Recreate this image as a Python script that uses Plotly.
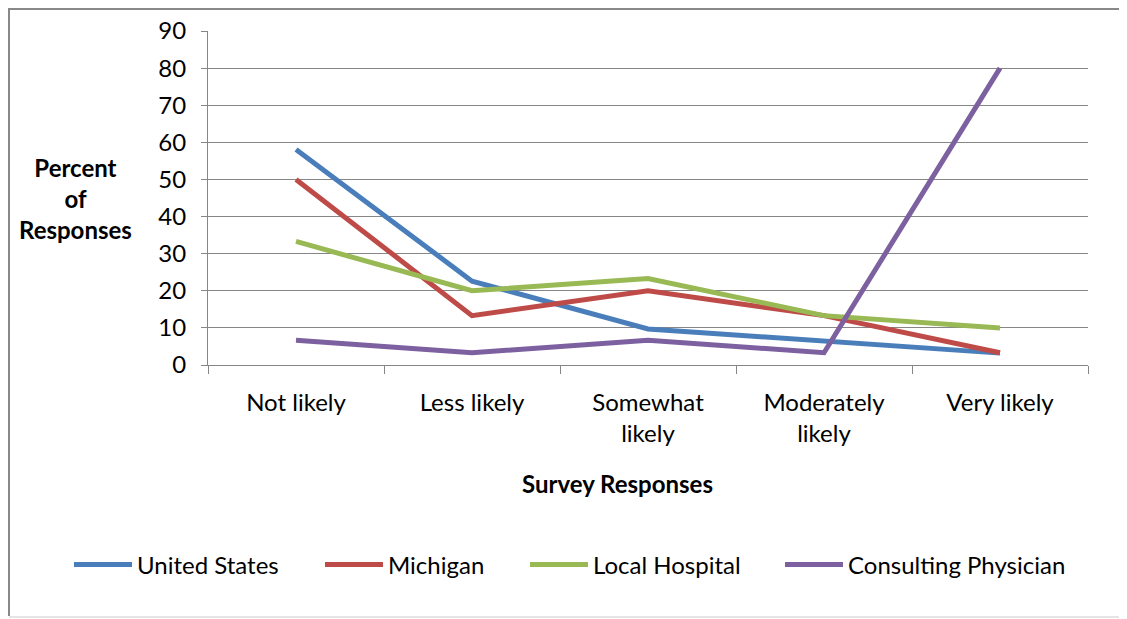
import plotly.graph_objects as go

categories = ["Not likely", "Less likely", "Somewhat<br>likely", "Moderately<br>likely", "Very likely"]
united_states = [58.1, 22.6, 9.7, 6.4, 3.2]
michigan = [50.0, 13.3, 20.0, 13.3, 3.3]
local_hospital = [33.3, 20.0, 23.3, 13.3, 10.0]
consulting_physician = [6.7, 3.3, 6.7, 3.3, 80.0]
y_ticks = [0, 10, 20, 30, 40, 50, 60, 70, 80, 90]

series = [
    ("United States", united_states, "#4A7EBB"),
    ("Michigan", michigan, "#BE4B48"),
    ("Local Hospital", local_hospital, "#98B954"),
    ("Consulting Physician", consulting_physician, "#7D60A0"),
]
# legend text start positions (screen px) for each entry
legend_text_x = [137, 388, 593, 848]

FONT = "Lato"
OFF = 8  # page body margin
W, H = 1127 - OFF, 619 - OFF
L, R, T, B = 208 - OFF, 1088 - OFF, 31 - OFF, 365 - OFF
pw, ph = R - L, B - T

def px(x):
    return (x - OFF - L) / pw

def py(y):
    return (B - (y - OFF)) / ph

fig = go.Figure()
legend_layouts = {}
for i, (name, vals, color) in enumerate(series):
    lname = "legend" if i == 0 else f"legend{i + 1}"
    fig.add_trace(go.Scatter(x=categories, y=vals, name=name, mode="lines",
                             line=dict(color=color, width=5), legend=lname))
    legend_layouts[lname] = dict(
        orientation="h", x=px(legend_text_x[i] - 68), y=py(565),
        xanchor="left", yanchor="middle", itemwidth=58,
        font=dict(family=FONT, size=24, color="black"),
        bgcolor="rgba(0,0,0,0)",
    )

frame_path = (f"M {px(9)},{py(616)} L {px(9)},{py(9)} L {px(1160)},{py(9)}")
bottom_path = (f"M {px(9)},{py(617)} L {px(1160)},{py(617)}")

fig.update_layout(
    width=W, height=H,
    margin=dict(l=L, r=W - R, t=T, b=H - B),
    paper_bgcolor="white", plot_bgcolor="white",
    font=dict(family=FONT, size=24, color="black"),
    showlegend=True,
    xaxis=dict(type="category", tickson="boundaries", ticks="outside", ticklen=8,
               tickcolor="#868686", tickwidth=1, showline=True, linecolor="#868686",
               linewidth=1, showgrid=False, ticklabelstandoff=16, tickangle=0,
               range=[-0.5, 4.5], automargin=False),
    yaxis=dict(range=[0, 90], tickvals=y_ticks, ticks="outside", ticklen=6,
               tickcolor="#868686", showline=True, linecolor="#868686", linewidth=1,
               showgrid=True, gridcolor="#868686", gridwidth=1, zeroline=False,
               ticklabelstandoff=10, automargin=False),
    annotations=[
        dict(text="<b>Percent<br>of<br>Responses</b>", xref="paper", yref="paper",
             x=px(75), y=py(198), xanchor="center", yanchor="middle", showarrow=False,
             font=dict(family=FONT, size=24, color="black")),
        dict(text="<b>Survey Responses</b>", xref="paper", yref="paper",
             x=px(617), y=py(483), xanchor="center", yanchor="middle", showarrow=False,
             font=dict(family=FONT, size=24, color="black")),
    ],
    shapes=[
        dict(type="path", xref="paper", yref="paper", path=frame_path,
             line=dict(color="#888888", width=2)),
        dict(type="path", xref="paper", yref="paper", path=bottom_path,
             line=dict(color="#DDDDDD", width=1.5)),
    ],
    **legend_layouts,
)

fig.write_html("out.html")
